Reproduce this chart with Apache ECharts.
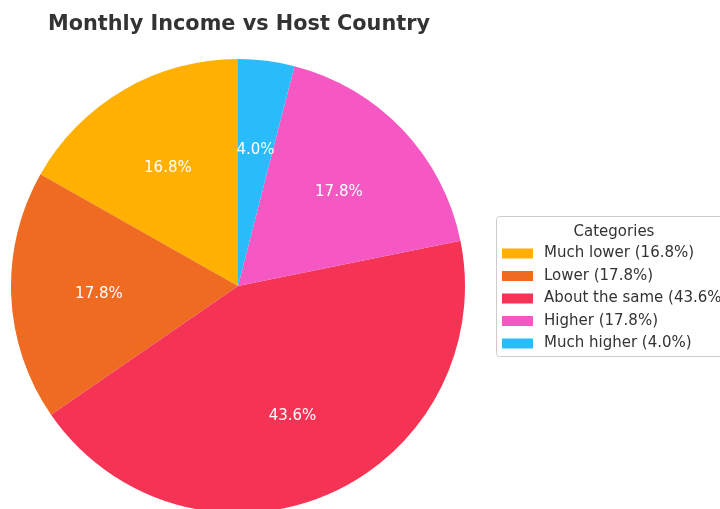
<!DOCTYPE html>
<html>
<head>
<meta charset="utf-8">
<script src="https://cdn.jsdelivr.net/npm/echarts@6/dist/echarts.min.js"></script>
<style>
    html, body { margin: 0; padding: 0; background: #fff; }
    #chart { width: 720px; height: 509px; }
</style>
</head>
<body>
<div id="chart"></div>
<script>
// 数据
var categories = ['Much lower', 'Lower', 'About the same', 'Higher', 'Much higher'];
var shares = [16.8, 17.8, 43.6, 17.8, 4.0];
var colors = ['#FFB000', '#F06B22', '#F53355', '#F558C3', '#29BBFA'];

var FONT = 'DejaVu Sans';
var CX = 238, CY = 286, R = 227;

var pieData = categories.map((name, i) => ({
    name: name,
    value: shares[i],
    itemStyle: { color: colors[i] }
}));

var chart = echarts.init(document.getElementById('chart'));

var option = {
    animation: false,
    title: [{
        text: 'Monthly Income vs Host Country',
        left: CX - 4,
        textAlign: 'center',
        top: 9,
        textStyle: { fontFamily: FONT, fontSize: 20.8, fontWeight: 'bold', color: '#333333' }
    }, {
        text: 'Categories',
        left: 609,
        textAlign: 'center',
        top: 220,
        textStyle: { fontFamily: FONT, fontSize: 15, fontWeight: 'normal', color: '#333333' }
    }],
    graphic: [{
        type: 'rect',
        shape: { x: 496.5, y: 216.5, width: 240, height: 140, r: 3 },
        style: { fill: '#ffffff', stroke: '#cccccc', lineWidth: 1 },
        z: -1
    }],
    legend: {
        orient: 'vertical',
        left: 502,
        top: 245,
        padding: 0,
        itemWidth: 31,
        itemHeight: 10,
        itemGap: 5.5,
        icon: 'rect',
        data: categories,
        formatter: name => name + ' (' + shares[categories.indexOf(name)].toFixed(1) + '%)',
        textStyle: { fontFamily: FONT, fontSize: 15, color: '#333333', lineHeight: 17, padding: [0, 0, 0, 6] }
    },
    series: [{
        type: 'pie',
        center: [CX, CY],
        radius: [0, R],
        startAngle: 90,
        clockwise: false,
        label: { show: false },
        labelLine: { show: false },
        emphasis: { disabled: true },
        data: pieData
    }, {
        // 标签层：放在 0.6 半径处
        type: 'pie',
        center: [CX, CY + 2],
        radius: [R * 0.6 - 30, R * 0.6 + 30],
        startAngle: 90,
        clockwise: false,
        silent: true,
        itemStyle: { color: 'rgba(0,0,0,0)' },
        label: {
            show: true,
            position: 'inside',
            formatter: p => shares[p.dataIndex].toFixed(1) + '%',
            fontFamily: FONT,
            fontSize: 15,
            color: '#ffffff'
        },
        labelLine: { show: false },
        emphasis: { disabled: true },
        legendHoverLink: false,
        data: categories.map((name, i) => ({ name: name + ' ', value: shares[i] }))
    }]
};

chart.setOption(option);
</script>
</body>
</html>
